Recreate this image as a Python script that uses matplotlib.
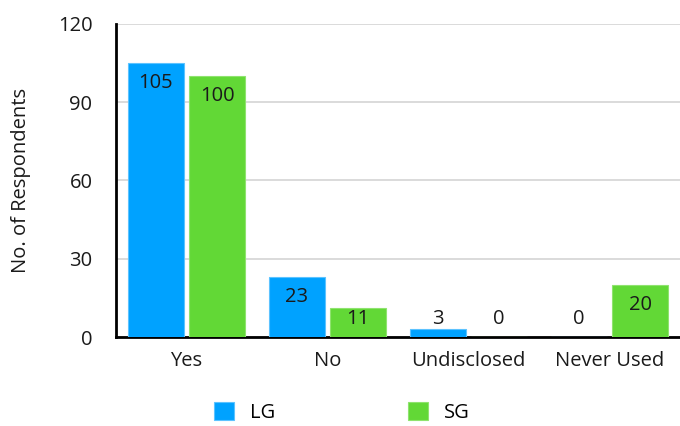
import matplotlib
matplotlib.use("Agg")
import matplotlib.pyplot as plt
import numpy as np

categories = ["Yes", "No", "Undisclosed", "Never Used"]
lg_values = [105, 23, 3, 0]
sg_values = [100, 11, 0, 20]
series_names = ["LG", "SG"]
y_ticks = [0, 30, 60, 90, 120]

BLUE = "#00A2FF"
GREEN = "#62D836"
INK = "#1A1A1A"
FS = 14.5

plt.rcParams["font.family"] = ["Open Sans", "DejaVu Sans"]

fig = plt.figure(figsize=(6.8, 4.26), dpi=100)
ax = fig.add_axes([0.1706, 0.2089, 0.8294, 0.7348])

x = np.arange(len(categories))
w = 0.40
off = 0.217
b1 = ax.bar(x - off, lg_values, w, color=BLUE, edgecolor="#5CC3FF", lw=0.8, label=series_names[0], zorder=3)
b2 = ax.bar(x + off, sg_values, w, color=GREEN, edgecolor="#8FE36E", lw=0.8, label=series_names[1], zorder=3)

ax.set_xlim(-0.5, len(categories) - 0.5)
ax.set_ylim(0, 120)
ax.set_yticks(y_ticks)
ax.set_xticks(x)
ax.set_xticklabels(categories)
ax.tick_params(axis="both", length=0, labelsize=FS, colors=INK)
ax.tick_params(axis="y", pad=17)
ax.tick_params(axis="x", pad=10)
ax.grid(axis="y", color="#D4D4D4", lw=1.2, zorder=0)
ax.set_axisbelow(True)
for s in ["top", "right"]:
    ax.spines[s].set_visible(False)
for s in ["left", "bottom"]:
    ax.spines[s].set_color("black")
    ax.spines[s].set_linewidth(2)
ax.set_ylabel("No. of Respondents", fontsize=FS, color=INK, labelpad=19)

# labels sit just inside bar top, but never lower than a floor
for xs, vals in [(x - off, lg_values), (x + off, sg_values)]:
    for xi, v in zip(xs, vals):
        ax.text(xi, max(v - 7.7, 6.9), str(v), ha="center", va="center",
                fontsize=FS, color=INK, zorder=5)

fig.legend(handles=[b1, b2], labels=series_names, loc="center", bbox_to_anchor=(0.503, 0.032),
           ncol=2, frameon=False, fontsize=FS, handlelength=1.0, handleheight=1.0,
           columnspacing=6.6, handletextpad=0.8)

fig.savefig("out.png", facecolor="white")
